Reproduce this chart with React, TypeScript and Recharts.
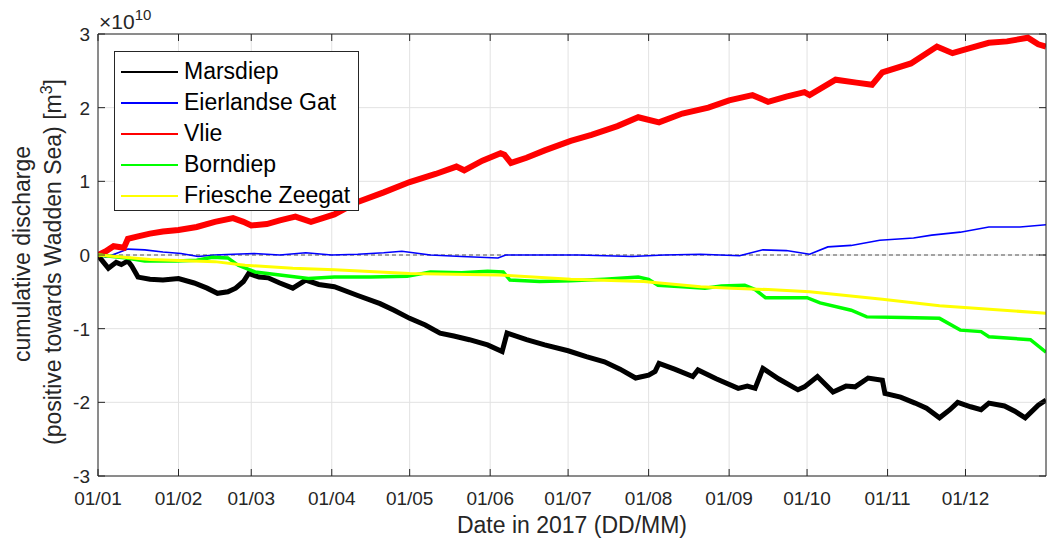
import React from 'react';
import { LineChart, Line, XAxis, YAxis, CartesianGrid, ReferenceLine, Legend } from 'recharts';

// day of year (0 = 01/01) and cumulative discharge in units of 1e10 m3
const marsdiepDays = [0, 1, 4, 7, 9, 11.5, 13, 15.4, 20, 25, 31, 37, 42, 46, 50, 53, 56, 58, 62, 65.5, 70, 75, 80, 85, 91, 100, 108.6, 114, 120, 126, 131.7, 137, 143, 150, 155.6, 157.5, 165, 172, 181, 188, 195, 201, 207, 212, 214.5, 216, 222, 229, 231, 238, 246.5, 250, 253, 256, 262, 269.5, 272, 277, 283, 288, 291.5, 296.5, 302, 303, 309, 314.6, 319, 324, 328, 331, 336, 340, 343, 349, 353, 357, 362, 365];
const marsdiepValues = [0, -0.05, -0.18, -0.1, -0.13, -0.08, -0.15, -0.3, -0.33, -0.34, -0.32, -0.38, -0.45, -0.52, -0.5, -0.45, -0.36, -0.25, -0.3, -0.31, -0.38, -0.45, -0.34, -0.4, -0.43, -0.55, -0.66, -0.75, -0.86, -0.95, -1.06, -1.1, -1.15, -1.22, -1.31, -1.06, -1.15, -1.22, -1.3, -1.38, -1.45, -1.55, -1.67, -1.63, -1.58, -1.47, -1.55, -1.65, -1.56, -1.68, -1.81, -1.78, -1.81, -1.54, -1.68, -1.83, -1.79, -1.65, -1.86, -1.78, -1.79, -1.67, -1.7, -1.88, -1.93, -2.01, -2.08, -2.21, -2.1, -2.0, -2.06, -2.1, -2.01, -2.05, -2.12, -2.21, -2.04, -1.97];

const eierlandDays = [0, 3, 7, 11.5, 18, 25, 32, 38.5, 45, 52, 60, 70, 80, 90, 100, 110, 117, 128, 140, 154, 157, 170, 185, 205.6, 218, 232, 247, 256, 265, 274, 281, 290, 301, 314, 321, 332, 343, 355, 365];
const eierlandValues = [0, -0.03, 0.02, 0.08, 0.07, 0.04, 0.02, -0.02, 0, 0.01, 0.02, 0, 0.03, 0, 0.01, 0.03, 0.05, 0, -0.02, -0.04, 0, 0, 0, -0.02, 0, 0.01, -0.01, 0.07, 0.06, 0.01, 0.11, 0.13, 0.2, 0.23, 0.27, 0.31, 0.38, 0.38, 0.41];

const vlieDays = [0, 3, 6, 10, 11.5, 15, 20, 25, 31, 38, 45, 52, 56, 59, 65, 70, 76, 82, 91, 100, 110, 120, 130, 138, 141, 148, 155, 156.5, 159, 165, 172, 182, 190, 200, 208, 216, 225, 235, 243, 252, 258, 265, 272, 274, 284, 292, 298, 302, 313, 323, 329, 335, 343, 350, 358, 362, 365];
const vlieValues = [0, 0.05, 0.12, 0.1, 0.22, 0.25, 0.29, 0.32, 0.34, 0.38, 0.45, 0.5, 0.45, 0.4, 0.42, 0.47, 0.52, 0.45, 0.55, 0.72, 0.85, 0.99, 1.1, 1.2, 1.15, 1.28, 1.38, 1.36, 1.25, 1.32, 1.42, 1.55, 1.63, 1.75, 1.87, 1.8, 1.92, 2.0, 2.1, 2.17, 2.08, 2.15, 2.21, 2.17, 2.38, 2.34, 2.31, 2.48, 2.6, 2.83, 2.74, 2.8, 2.88, 2.9, 2.95, 2.86, 2.83];

const borndiepDays = [0, 11, 18, 30, 38, 44, 50, 54, 60.5, 70, 81, 91, 105, 119, 128, 140, 150, 156, 158.6, 170, 182, 195, 208, 212, 215.6, 225, 233.7, 240, 249, 253, 257, 265, 273, 278, 290, 296, 310, 324, 332, 340, 343, 359, 365];
const borndiepValues = [0, -0.04, -0.08, -0.08, -0.07, -0.03, -0.04, -0.14, -0.23, -0.27, -0.32, -0.3, -0.3, -0.29, -0.23, -0.24, -0.22, -0.23, -0.34, -0.36, -0.35, -0.33, -0.3, -0.33, -0.41, -0.43, -0.45, -0.42, -0.41, -0.47, -0.58, -0.58, -0.58, -0.65, -0.75, -0.84, -0.85, -0.86, -1.02, -1.04, -1.11, -1.15, -1.32];

const frieschDays = [0, 20, 45, 56.6, 75, 91, 120, 154, 182, 210, 232, 244, 258, 274, 302, 324, 365];
const frieschValues = [0, -0.06, -0.09, -0.14, -0.18, -0.2, -0.25, -0.27, -0.33, -0.36, -0.43, -0.45, -0.47, -0.5, -0.6, -0.69, -0.79];

const seriesNames = ['Marsdiep', 'Eierlandse Gat', 'Vlie', 'Borndiep', 'Friesche Zeegat'];
const monthStarts = [0, 31, 59, 90, 120, 151, 181, 212, 243, 273, 304, 334];
const monthLabels = ['01/01', '01/02', '01/03', '01/04', '01/05', '01/06', '01/07', '01/08', '01/09', '01/10', '01/11', '01/12'];
const yTicks = [-3, -2, -1, 0, 1, 2, 3];

const toPoints = (days: number[], vals: number[]) => days.map((d, i) => ({ d, v: vals[i] }));

const FONT = '"Liberation Sans", Arial, sans-serif';
const AXIS = '#262626';

const BottomTick = ({ x, y, payload }: any) => (
  <g>
    <line x1={x} y1={y} x2={x} y2={y - 7} stroke={AXIS} />
    <text x={x} y={y + 29} textAnchor="middle" fontSize={19} fill={AXIS} fontFamily={FONT}>
      {monthLabels[monthStarts.indexOf(payload.value)]}
    </text>
  </g>
);

const TopTick = ({ x, y }: any) => <line x1={x} y1={y} x2={x} y2={y + 7} stroke={AXIS} />;

const LeftTick = ({ x, y, payload }: any) => (
  <g>
    <line x1={x} y1={y} x2={x + 7} y2={y} stroke={AXIS} />
    <text x={x - 8} y={y + 7} textAnchor="end" fontSize={19} fill={AXIS} fontFamily={FONT}>
      {payload.value}
    </text>
  </g>
);

const RightTick = ({ x, y }: any) => <line x1={x} y1={y} x2={x - 7} y2={y} stroke={AXIS} />;

const YLabel = () => (
  <g fontFamily={FONT} fontSize={23} fill={AXIS}>
    <text transform="rotate(-90)" x={-254} y={30} textAnchor="middle">cumulative discharge</text>
    <text transform="rotate(-90)" x={-262} y={61} textAnchor="middle">
      (positive towards Wadden Sea) [m<tspan dy={-9} fontSize={16}>3</tspan><tspan dy={9}>]</tspan>
    </text>
  </g>
);

const ExpLabel = () => (
  <text x={99} y={29} fontFamily={FONT} fontSize={21} fill={AXIS}>
    ×10<tspan dy={-9} fontSize={15}>10</tspan>
  </text>
);

const XLabel = () => (
  <text x={572} y={533} textAnchor="middle" fontFamily={FONT} fontSize={23} fill={AXIS}>
    Date in 2017 (DD/MM)
  </text>
);

const LegendBox = ({ payload }: any) => {
  const items = [...(payload || [])].sort((a: any, b: any) => seriesNames.indexOf(a.value) - seriesNames.indexOf(b.value));
  return (
    <div style={{ background: '#fff', border: `1px solid ${AXIS}`, paddingTop: 4, height: 160, boxSizing: 'border-box', fontFamily: FONT }}>
      {items.map((p: any) => (
        <div key={p.value} style={{ display: 'flex', alignItems: 'center', height: 31 }}>
          <div style={{ marginLeft: 6, width: 57, height: 2, background: p.color }} />
          <span style={{ marginLeft: 6, fontSize: 23, color: '#000', lineHeight: '31px' }}>{p.value}</span>
        </div>
      ))}
    </div>
  );
};

export default function App() {
  return (
    <div style={{ position: 'absolute', left: 0, top: 0, width: 1048, height: 542, background: '#fff' }}>
      <LineChart width={1048} height={542} margin={{ top: 0, right: 0, bottom: 0, left: 0 }}>
        <CartesianGrid stroke="#e2e2e2" strokeWidth={1} />
        <XAxis
          dataKey="d"
          type="number"
          domain={[0, 365]}
          ticks={monthStarts}
          allowDataOverflow
          height={66}
          tickSize={0}
          tickMargin={0}
          tickLine={false}
          axisLine={{ stroke: AXIS }}
          tick={<BottomTick />}
          interval={0}
          label={<XLabel />}
        />
        <XAxis
          xAxisId="t"
          orientation="top"
          dataKey="d"
          type="number"
          domain={[0, 365]}
          ticks={monthStarts}
          allowDataOverflow
          height={34}
          tickSize={0}
          tickMargin={0}
          tickLine={false}
          axisLine={{ stroke: AXIS }}
          tick={<TopTick />}
          interval={0}
          label={<ExpLabel />}
        />
        <YAxis
          type="number"
          domain={[-3, 3]}
          ticks={yTicks}
          allowDataOverflow
          width={98}
          tickSize={0}
          tickMargin={0}
          tickLine={false}
          axisLine={{ stroke: AXIS }}
          tick={<LeftTick />}
          interval={0}
          label={<YLabel />}
        />
        <YAxis
          yAxisId="r"
          orientation="right"
          type="number"
          domain={[-3, 3]}
          ticks={yTicks}
          allowDataOverflow
          width={2}
          tickSize={0}
          tickMargin={0}
          tickLine={false}
          axisLine={{ stroke: AXIS }}
          tick={<RightTick />}
          interval={0}
        />
        <ReferenceLine y={0} stroke="#555" strokeDasharray="4 3" strokeWidth={1} />
        <Line data={toPoints(marsdiepDays, marsdiepValues)} dataKey="v" name="Marsdiep" stroke="#000000" strokeWidth={5} dot={false} type="linear" isAnimationActive={false} />
        <Line data={toPoints(eierlandDays, eierlandValues)} dataKey="v" name="Eierlandse Gat" stroke="#0000ff" strokeWidth={1.6} dot={false} type="linear" isAnimationActive={false} />
        <Line data={toPoints(vlieDays, vlieValues)} dataKey="v" name="Vlie" stroke="#ff0000" strokeWidth={6} dot={false} type="linear" isAnimationActive={false} />
        <Line data={toPoints(borndiepDays, borndiepValues)} dataKey="v" name="Borndiep" stroke="#00ff00" strokeWidth={3.5} dot={false} type="linear" isAnimationActive={false} />
        <Line data={toPoints(frieschDays, frieschValues)} dataKey="v" name="Friesche Zeegat" stroke="#ffff00" strokeWidth={3} dot={false} type="linear" isAnimationActive={false} />
        <Legend
          layout="vertical"
          align="center"
          verticalAlign="middle"
          wrapperStyle={{ left: 114, top: 51, width: 245 }}
          content={<LegendBox />}
        />
      </LineChart>
    </div>
  );
}
